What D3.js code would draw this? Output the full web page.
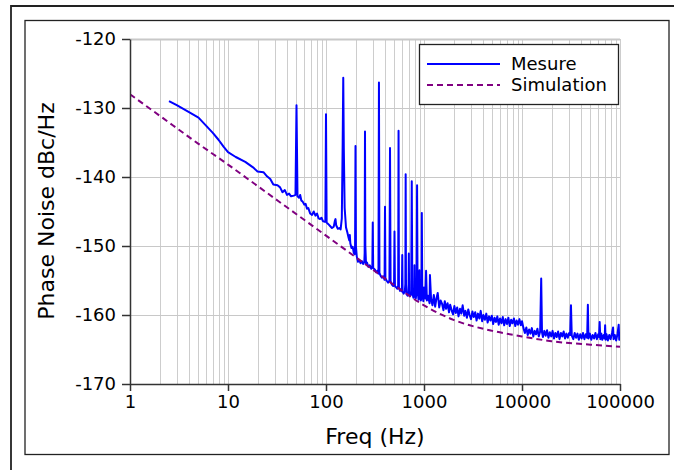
<!DOCTYPE html>
<html>
<head>
<meta charset="utf-8">
<script src="https://cdn.jsdelivr.net/npm/d3@7"></script>
<style>
  body { margin: 0; background: #fff; }
  svg { display: block; font-family: "DejaVu Sans", sans-serif; }
</style>
</head>
<body>
<script>
var WIDTH = 674;
var HEIGHT = 470;

// measured phase noise [freq Hz, dBc/Hz]
var mesure = [
  [2.5,-129.0],[3,-129.6],[4,-130.6],[5,-131.4],[6,-132.6],[7,-133.6],[8,-134.6],[9,-135.6],
  [10,-136.4],[12,-137.1],[15,-137.8],[18,-138.6],[20,-139.2],[23,-139.3],[25,-139.9],[27,-140.3],
  [29,-141.1],[32,-141.2],[34,-141.5],[36,-142.2],[38,-141.9],[40,-142.6],[42,-142.4],[44,-142.8],
  [47,-142.7],[48.8,-142.6],[50,-129.6],[51.2,-142.8],[53,-143.0],[54.5,-142.6],[56,-143.4],
  [58,-143.6],[60,-144.0],[62,-143.9],[64,-144.6],[66,-144.5],[69,-145.3],[72,-145.5],[75,-145.0],
  [78,-145.6],[81,-145.3],[84,-146.0],[87,-146.1],[90,-145.9],[93,-146.4],[97,-146.5],[98.5,-146.5],
  [100,-130.9],[101.5,-146.6],[105,-146.8],[110,-147.1],[115,-147.4],[120,-147.2],[123,-146.4],
  [125,-146.1],[127,-147.0],[132,-147.5],[137,-147.4],[141,-147.6],[145,-146.0],[148,-135],
  [150,-125.6],[152,-136],[155,-144.5],[160,-147.3],[165,-148.0],[170,-148.8],[173,-149.2],
  [175,-148.4],[177,-149.6],[182,-150.3],[187,-150.1],[192,-151.0],[196,-151.2],[198,-150],
  [200,-135.5],[202,-150],[206,-151.5],[212,-152.3],[218,-152.0],[225,-152.5],[232,-152.2],
  [240,-152.6],[246,-152.3],[248,-151],[250,-133.4],[252,-150],[256,-152.6],[262,-152.4],
  [270,-153.0],[280,-152.8],[290,-153.3],[297,-153.0],[300,-146.6],[303,-153.2],[315,-153.4],
  [325,-153.8],[335,-153.6],[343,-154.0],[347,-126.3],[351,-153.9],[360,-154.3],[372,-154.6],
  [385,-154.4],[396,-154.9],[400,-144.3],[404,-154.7],[415,-155.0],[430,-155.3],[444,-155.0],
  [450,-135.8],[456,-155.1],[470,-155.6],[485,-155.8],[495,-155.3],[500,-147.9],[505,-155.8],
  [520,-156.0],[535,-156.2],[545,-155.8],[550,-133.3],[555,-156.0],[570,-156.5],[585,-156.3],
  [595,-156.6],[600,-151.3],[605,-156.6],[620,-156.9],[637,-156.6],[645,-155.5],[650,-139.6],
  [655,-155.5],[665,-157.0],[680,-157.2],[695,-156.8],[700,-151.1],[705,-156.6],[720,-157.3],
  [740,-157.0],[750,-140.6],[760,-156.8],[780,-157.5],[795,-157.2],[800,-152.8],[805,-157.0],
  [825,-157.6],[840,-156.5],[850,-141.2],[860,-156.4],[880,-157.8],[895,-157.3],[900,-153.5],
  [905,-157.1],[930,-157.9],[945,-157.0],[950,-145.2],[960,-157.0],[985,-158.0],[1000,-156.0],
  [1030,-157.6],[1050,-153.6],[1070,-157.9],[1100,-157.2],[1140,-158.3],[1150,-154.2],
  [1180,-157.6],[1220,-158.6],[1260,-157.1],[1300,-158.8],[1340,-157.6],[1380,-156.8],
  [1430,-158.9],[1480,-157.9],[1530,-158.4],[1580,-159.3],[1630,-158.0],[1680,-159.1],
  [1740,-158.3],[1800,-159.6],[1850,-158.5],[1920,-159.4],[1980,-159.9],[2040,-158.7],
  [2110,-159.7],[2180,-158.9],[2250,-160.2],[2330,-159.1],[2400,-159.8],[2480,-158.6],
  [2570,-160.1],[2650,-159.4],[2740,-160.4],[2830,-159.2],[2920,-160.0],[3020,-160.6],
  [3120,-159.5],[3220,-160.3],[3330,-159.6],[3440,-160.8],[3550,-159.8],[3670,-160.5],
  [3790,-159.4],[3920,-160.9],[4040,-160.0],[4180,-160.7],[4320,-159.8],[4460,-161.1],
  [4610,-160.2],[4760,-160.8],[4920,-160.1],[5080,-161.3],[5250,-160.4],[5420,-161.0],
  [5600,-160.2],[5780,-161.4],[5970,-160.5],[6170,-161.2],[6370,-160.3],[6580,-161.5],
  [6800,-160.6],[7030,-161.3],[7260,-160.4],[7500,-161.6],[7750,-160.7],[8000,-161.2],
  [8270,-160.5],[8540,-161.6],[8820,-160.8],[9110,-161.4],[9410,-160.6],[9730,-161.5],
  [10000,-160.9],[10350,-161.9],[10700,-162.6],[11070,-161.8],[11440,-162.9],[11820,-162.1],
  [12210,-162.7],[12610,-161.9],[13030,-163.1],[13460,-162.3],[13900,-162.8],[14360,-162.0],
  [14830,-163.1],[15320,-162.4],[15700,-154.7],[16000,-162.5],[16350,-163.2],[16890,-162.3],
  [17450,-163.0],[18020,-162.2],[18620,-163.3],[19230,-162.5],[19870,-163.1],[20520,-162.3],
  [21200,-163.4],[21900,-162.6],[22620,-163.2],[23370,-162.4],[24140,-163.5],[24940,-162.6],
  [25760,-163.1],[26610,-162.4],[27490,-163.4],[28400,-162.7],[29330,-163.3],[30300,-162.6],
  [31000,-162.9],[31600,-158.6],[32200,-163.0],[33400,-163.5],[34500,-162.6],[35640,-163.3],
  [36820,-162.7],[38030,-163.6],[39290,-162.8],[40590,-163.4],[41920,-162.6],[43310,-163.5],
  [44740,-162.8],[46210,-163.3],[47000,-158.5],[47700,-163.4],[49310,-162.7],[50940,-163.6],
  [52620,-162.9],[54360,-163.4],[56150,-162.6],[58000,-163.5],[59920,-162.8],[61000,-163.2],
  [62000,-161.0],[63000,-163.5],[64500,-162.7],[66050,-163.6],[68230,-162.9],[69800,-163.4],
  [70500,-161.5],[71300,-163.6],[72810,-162.8],[75210,-163.7],[77690,-162.9],[80250,-163.5],
  [82900,-162.6],[85000,-161.8],[86000,-163.5],[88460,-162.9],[91380,-163.7],[94400,-162.7],
  [97000,-161.4],[98200,-163.6],[100000,-162.9]
];

// simulated phase noise [freq Hz, dBc/Hz]
var simulation = [
  [1,-128.0],[2,-131.1],[5,-135.2],[10,-138.2],[20,-141.3],[50,-145.4],[100,-148.5],
  [200,-151.6],[500,-155.7],[1000,-158.6],[2000,-160.7],[5000,-162.3],[10000,-163.1],
  [20000,-163.8],[50000,-164.3],[100000,-164.6]
];

var xTicks = [1, 10, 100, 1000, 10000, 100000];
var yTicks = [-170, -160, -150, -140, -130, -120];
var legendItems = ["Mesure", "Simulation"];
var legendColors = ["#0000ff", "#800080"];

var svg = d3.select("body").append("svg")
    .attr("width", WIDTH)
    .attr("height", HEIGHT);

// figure frames
svg.append("path")
   .attr("d", "M11,470V6H674")
   .attr("fill", "none")
   .attr("stroke", "#222")
   .attr("stroke-width", 1.8);
svg.append("rect")
   .attr("x", 25).attr("y", 20.5)
   .attr("width", 644).attr("height", 434)
   .attr("fill", "none")
   .attr("stroke", "#222")
   .attr("stroke-width", 1.3);

var x = d3.scaleLog().domain([1, 100000]).range([130, 620]);
var y = d3.scaleLinear().domain([-170, -120]).range([384, 39]);

// grid
svg.append("g").selectAll("line")
   .data(x.ticks())
   .enter().append("line")
   .attr("x1", d => Math.round(x(d)) + 0.5).attr("x2", d => Math.round(x(d)) + 0.5)
   .attr("y1", y(-120)).attr("y2", y(-170))
   .attr("stroke", "#cdcdcd").attr("stroke-width", 1);
svg.append("g").selectAll("line")
   .data(yTicks.slice(1))
   .enter().append("line")
   .attr("x1", x(1)).attr("x2", x(100000))
   .attr("y1", d => Math.round(y(d)) + 0.5).attr("y2", d => Math.round(y(d)) + 0.5)
   .attr("stroke", "#c8c8c8").attr("stroke-width", d => d == -120 ? 2 : 1.2);

svg.append("clipPath").attr("id", "plotclip")
   .append("rect").attr("x", 130).attr("y", 39).attr("width", 490).attr("height", 345);

var line = d3.line()
   .x(d => x(d[0]))
   .y(d => y(d[1]));

svg.append("path")
   .datum(mesure)
   .attr("clip-path", "url(#plotclip)")
   .attr("d", line)
   .attr("fill", "none")
   .attr("stroke", "#0000ff")
   .attr("stroke-width", 2)
   .attr("stroke-linejoin", "round");

svg.append("path")
   .datum(simulation)
   .attr("clip-path", "url(#plotclip)")
   .attr("d", line.curve(d3.curveMonotoneX))
   .attr("fill", "none")
   .attr("stroke", "#800080")
   .attr("stroke-width", 2)
   .attr("stroke-dasharray", "6,4");

// axes
svg.append("g")
   .attr("transform", "translate(0," + y(-170) + ")")
   .call(d3.axisBottom(x).tickValues(xTicks).tickFormat(d => String(d)).tickSize(7).tickSizeOuter(0).tickPadding(4));
svg.append("g")
   .attr("transform", "translate(" + x(1) + ",0)")
   .call(d3.axisLeft(y).tickValues(yTicks).tickFormat(d => String(d)).tickSize(8).tickSizeOuter(0).tickPadding(6));

svg.selectAll(".domain, .tick line").attr("stroke", "#333").attr("stroke-width", 1.5);
svg.selectAll(".tick text").attr("font-size", 18).attr("fill", "#000")
   .attr("font-family", "DejaVu Sans");

svg.append("text")
   .attr("x", 375).attr("y", 444)
   .attr("text-anchor", "middle")
   .attr("font-size", 22)
   .text("Freq (Hz)");
svg.append("text")
   .attr("transform", "translate(54,211) rotate(-90)")
   .attr("text-anchor", "middle")
   .attr("font-size", 22)
   .text("Phase Noise dBc/Hz");

// legend
var legend = svg.append("g");
legend.append("rect")
   .attr("x", 419.5).attr("y", 44.5)
   .attr("width", 199).attr("height", 60)
   .attr("fill", "#fff")
   .attr("stroke", "#222")
   .attr("stroke-width", 1.3);
legend.selectAll("line")
   .data(legendItems)
   .enter().append("line")
   .attr("x1", 427).attr("x2", 500)
   .attr("y1", (d, i) => 64 + i * 21).attr("y2", (d, i) => 64 + i * 21)
   .attr("stroke", (d, i) => legendColors[i])
   .attr("stroke-width", 2)
   .attr("stroke-dasharray", (d, i) => i == 0 ? null : "6,4");
legend.selectAll("text")
   .data(legendItems)
   .enter().append("text")
   .attr("x", 511)
   .attr("y", (d, i) => 70 + i * 21)
   .attr("font-size", 18)
   .text(d => d);
</script>
</body>
</html>
